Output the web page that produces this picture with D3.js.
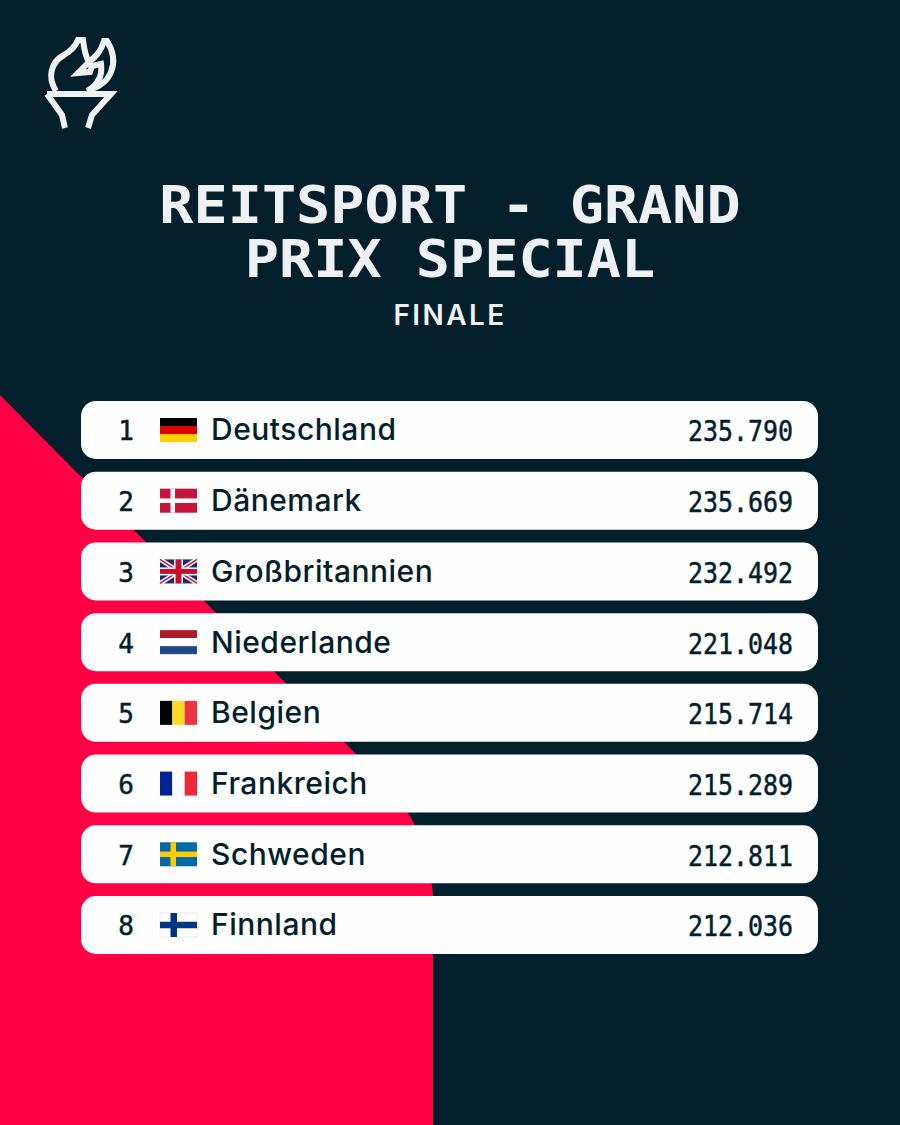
<!DOCTYPE html>
<html>
<head>
<meta charset="utf-8">
<script src="https://cdn.jsdelivr.net/npm/d3@7"></script>
<style>
  html, body { margin: 0; padding: 0; background: #031f2b; }
  svg { display: block; }
</style>
</head>
<body>
<svg id="chart"></svg>
<script>
const ranks = [1, 2, 3, 4, 5, 6, 7, 8];
const countries = ['Deutschland', 'Dänemark', 'Großbritannien', 'Niederlande', 'Belgien', 'Frankreich', 'Schweden', 'Finnland'];
const scores = [235.790, 235.669, 232.492, 221.048, 215.714, 215.289, 212.811, 212.036];
const flagCodes = ['de', 'dk', 'gb', 'nl', 'be', 'fr', 'se', 'fi'];
const titleLines = ['REITSPORT - GRAND', 'PRIX SPECIAL'];
const subtitle = 'FINALE';

const width = 900, height = 1125;
const navy = '#031f2b', red = '#ff0044', pale = '#eef0f2';
const flagW = 37, flagH = 24;

const svg = d3.select('#chart').attr('width', width).attr('height', height);

// red background shape
svg.append('path')
    .attr('d', 'M0,395 L357,755 C378,777 396,797 408,813 C420,832 429,858 433,895 L433,1125 L0,1125 Z')
    .attr('fill', red);

// torch icon
const torch = svg.append('g')
    .attr('fill', 'none')
    .attr('stroke', pale)
    .attr('stroke-width', 6)
    .attr('stroke-linejoin', 'miter');
[
    'M56,91 C47,77 51,62 64,55 C71,51 75,47 78,40 L83,40 C84,48 85,56 89,62 C95,57 101,52 104,41 L107,41 C114,52 115,62 111,72 C108,80 100,87 87,91',
    'M87,91 C96,86 103,78 101,64 L92,66 L90,72 L78,73 L89,62',
    'M47,94 L111,94 L92,115 L88,128',
    'M47,94 L62,115 L65,128'
].forEach(d => torch.append('path').attr('d', d));

// title
svg.append('g').selectAll('text')
    .data(titleLines)
    .join('text')
    .attr('x', width / 2)
    .attr('y', (d, i) => 223 + i * 54)
    .attr('text-anchor', 'middle')
    .attr('font-family', '"DejaVu Sans Mono"')
    .attr('font-weight', 700)
    .attr('font-size', 52)
    .attr('textLength', d => d.length * 34.2)
    .attr('lengthAdjust', 'spacingAndGlyphs')
    .attr('fill', pale)
    .text(d => d);

svg.append('text')
    .attr('x', width / 2)
    .attr('y', 325)
    .attr('text-anchor', 'middle')
    .attr('font-family', 'Inter')
    .attr('font-weight', 600)
    .attr('font-size', 28)
    .attr('letter-spacing', 2.4)
    .attr('fill', pale)
    .text(subtitle);

// rows
const y = d3.scaleBand()
    .domain(ranks)
    .range([401, 954])
    .paddingInner(0.18);
const fmt = d3.format('.3f');

const rows = svg.append('g').selectAll('g')
    .data(ranks)
    .join('g')
    .attr('transform', d => `translate(0, ${y(d)})`);

rows.append('rect')
    .attr('x', 81)
    .attr('width', 737)
    .attr('height', y.bandwidth())
    .attr('rx', 15)
    .attr('fill', '#fefefe');

rows.append('text')
    .attr('x', 126)
    .attr('y', y.bandwidth() / 2 + 10.5)
    .attr('text-anchor', 'middle')
    .attr('font-family', '"DejaVu Sans Mono"')
    .attr('font-size', 26)
    .attr('stroke', navy)
    .attr('stroke-width', 0.5)
    .attr('fill', navy)
    .text(d => d);

rows.append('text')
    .attr('x', 211)
    .attr('y', y.bandwidth() / 2 + 10.5)
    .attr('font-family', 'Inter')
    .attr('font-weight', 500)
    .attr('font-size', 30)
    .attr('letter-spacing', 0.5)
    .attr('fill', navy)
    .text((d, i) => countries[i]);

rows.append('text')
    .attr('x', 793)
    .attr('y', y.bandwidth() / 2 + 11.5)
    .attr('text-anchor', 'end')
    .attr('font-family', '"DejaVu Sans Mono"')
    .attr('font-size', 27.5)
    .attr('textLength', 105)
    .attr('lengthAdjust', 'spacingAndGlyphs')
    .attr('stroke', navy)
    .attr('stroke-width', 0.5)
    .attr('fill', navy)
    .text((d, i) => fmt(scores[i]));

// flags
const flags = rows.append('g')
    .attr('transform', `translate(160, ${(y.bandwidth() - flagH) / 2})`);

function stripes(g, colors, vertical) {
    const band = d3.scaleBand().domain(d3.range(colors.length)).range([0, vertical ? flagW : flagH]);
    g.selectAll('rect')
        .data(colors)
        .join('rect')
        .attr('x', (d, i) => vertical ? band(i) : 0)
        .attr('y', (d, i) => vertical ? 0 : band(i))
        .attr('width', vertical ? band.bandwidth() : flagW)
        .attr('height', vertical ? flagH : band.bandwidth())
        .attr('fill', d => d);
}

function nordic(g, field, cross, barW, edge) {
    const field_ = g.append('rect').attr('width', flagW).attr('height', flagH).attr('fill', field);
    if (edge) field_.attr('stroke', edge).attr('stroke-width', 0.5);
    g.append('rect').attr('x', 10.5).attr('width', barW).attr('height', flagH).attr('fill', cross);
    g.append('rect').attr('y', (flagH - barW) / 2).attr('width', flagW).attr('height', barW).attr('fill', cross);
}

function union(g) {
    g.append('rect').attr('width', flagW).attr('height', flagH).attr('fill', '#1f2a6b');
    const diag = [[0, 0, flagW, flagH], [flagW, 0, 0, flagH]];
    diag.forEach(l => {
        g.append('line').attr('x1', l[0]).attr('y1', l[1]).attr('x2', l[2]).attr('y2', l[3])
            .attr('stroke', '#fff').attr('stroke-width', 4.5);
        g.append('line').attr('x1', l[0]).attr('y1', l[1]).attr('x2', l[2]).attr('y2', l[3])
            .attr('stroke', '#c8102e').attr('stroke-width', 1.4);
    });
    g.append('rect').attr('x', 14).attr('width', 9).attr('height', flagH).attr('fill', '#fff');
    g.append('rect').attr('y', 8).attr('width', flagW).attr('height', 8).attr('fill', '#fff');
    g.append('rect').attr('x', 15.5).attr('width', 6).attr('height', flagH).attr('fill', '#c8102e');
    g.append('rect').attr('y', 9.5).attr('width', flagW).attr('height', 5).attr('fill', '#c8102e');
}

flags.each(function (d, i) {
    const g = d3.select(this);
    const code = flagCodes[i];
    if (code === 'de') stripes(g, ['#000000', '#dd0000', '#ffce00'], false);
    if (code === 'nl') stripes(g, ['#ae1c28', '#ffffff', '#21468b'], false);
    if (code === 'be') stripes(g, ['#000000', '#fdda24', '#ef3340'], true);
    if (code === 'fr') stripes(g, ['#002395', '#ffffff', '#ed2939'], true);
    if (code === 'dk') nordic(g, '#c8143c', '#ffffff', 4.5);
    if (code === 'se') nordic(g, '#006aa7', '#fecc00', 5.5);
    if (code === 'fi') nordic(g, '#ffffff', '#003580', 6.5, '#dddddd');
    if (code === 'gb') union(g);
});
</script>
</body>
</html>
